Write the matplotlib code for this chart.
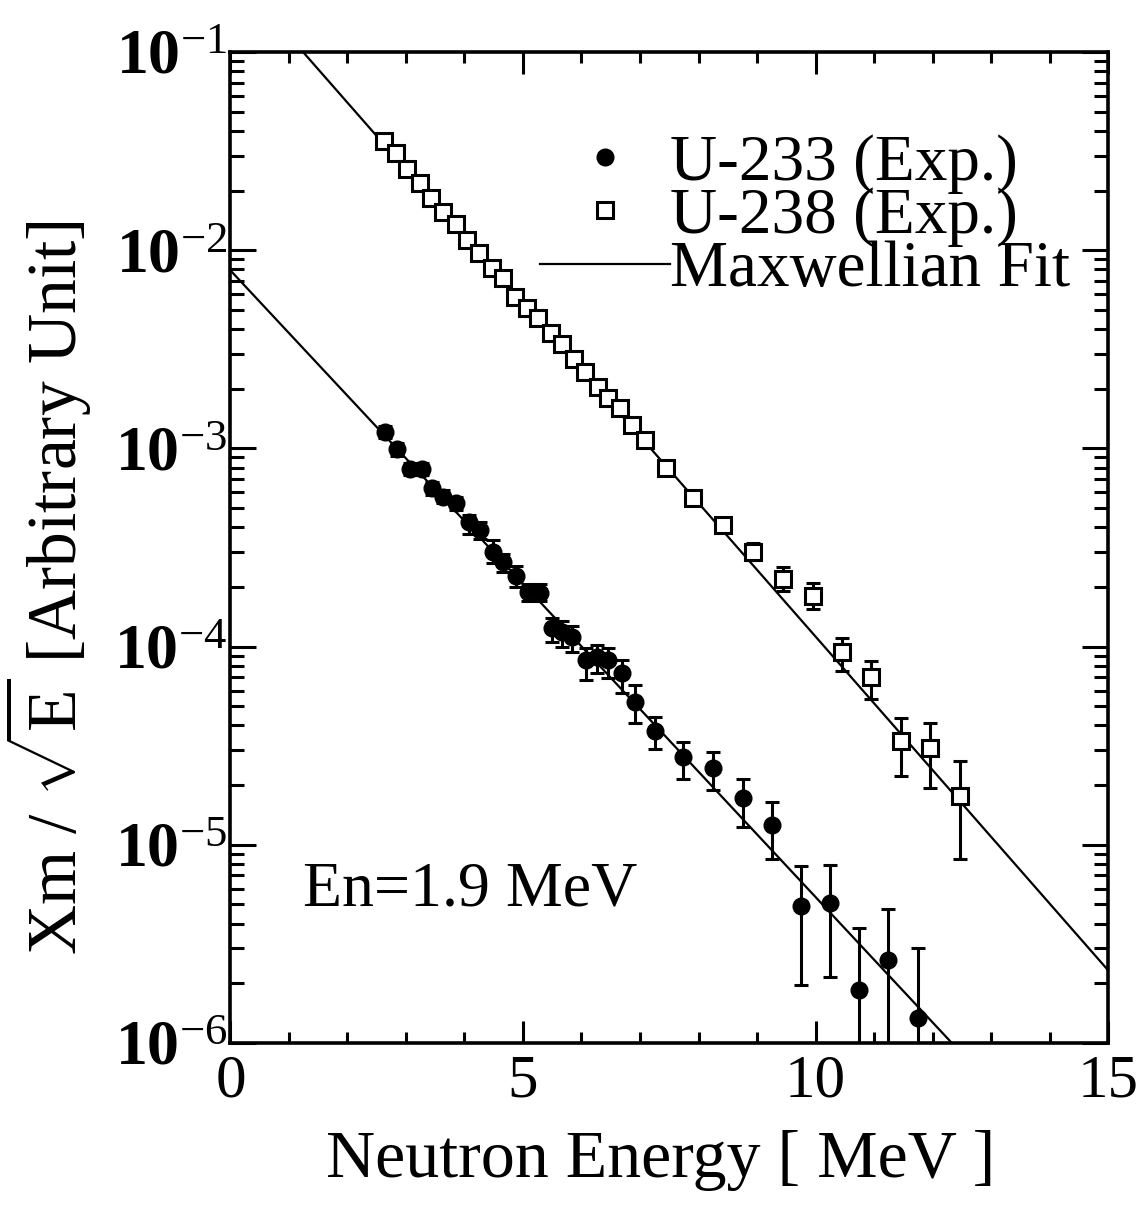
import numpy as np
import matplotlib
matplotlib.use('Agg')
import matplotlib.pyplot as plt
from matplotlib.lines import Line2D
from matplotlib.ticker import FixedLocator, LogLocator, NullFormatter


# DATA
# U-233 (Exp.), filled circles
u233_e = [2.64, 2.85, 3.06, 3.27, 3.44, 3.64, 3.85, 4.07, 4.26, 4.49, 4.66,
          4.88, 5.09, 5.29, 5.49, 5.66, 5.84, 6.08, 6.26, 6.46, 6.69, 6.91,
          7.26, 7.74, 8.24, 8.76, 9.26, 9.75, 10.25, 10.75, 11.24, 11.76]
u233_y = [1.21e-3, 9.89e-4, 7.84e-4, 7.84e-4, 6.29e-4, 5.71e-4, 5.28e-4, 4.27e-4,
          3.87e-4, 3.01e-4, 2.68e-4, 2.27e-4, 1.89e-4, 1.87e-4, 1.24e-4, 1.19e-4,
          1.12e-4, 8.55e-5, 8.89e-5, 8.55e-5, 7.32e-5, 5.27e-5, 3.75e-5, 2.77e-5,
          2.43e-5, 1.73e-5, 1.26e-5, 4.91e-6, 5.07e-6, 1.85e-6, 2.62e-6, 1.33e-6]
u233_lo = [1.13e-3, 9.2e-4, 7.3e-4, 7.3e-4, 5.85e-4, 5.3e-4, 4.9e-4, 3.7e-4,
           3.5e-4, 2.64e-4, 2.37e-4, 2.0e-4, 1.70e-4, 1.69e-4, 1.06e-4, 1.0e-4,
           9.42e-5, 6.78e-5, 7.32e-5, 6.92e-5, 5.81e-5, 4.1e-5, 3.04e-5, 2.15e-5,
           1.89e-5, 1.23e-5, 8.45e-6, 1.96e-6, 2.16e-6, 1e-7, 1e-7, 1e-7]
u233_hi = [1.29e-3, 1.06e-3, 8.4e-4, 8.4e-4, 6.75e-4, 6.15e-4, 5.7e-4, 4.6e-4,
           4.25e-4, 3.43e-4, 2.93e-4, 2.55e-4, 2.07e-4, 2.07e-4, 1.39e-4, 1.34e-4,
           1.27e-4, 9.8e-5, 1.02e-4, 9.8e-5, 8.55e-5, 6.4e-5, 4.41e-5, 3.31e-5,
           2.95e-5, 2.15e-5, 1.65e-5, 7.82e-6, 7.88e-6, 3.79e-6, 4.73e-6, 3.01e-6]

# U-238 (Exp.), open squares
u238_e = [2.63, 2.83, 3.02, 3.24, 3.43, 3.64, 3.85, 4.05, 4.25, 4.47, 4.66,
          4.86, 5.07, 5.26, 5.48, 5.66, 5.87, 6.06, 6.28, 6.46, 6.66, 6.86,
          7.09, 7.44, 7.91, 8.42, 8.94, 9.45, 9.95, 10.45, 10.95, 11.46,
          11.96, 12.47]
u238_y = [3.56e-2, 3.08e-2, 2.57e-2, 2.18e-2, 1.84e-2, 1.55e-2, 1.35e-2, 1.12e-2,
          9.66e-3, 8.17e-3, 7.27e-3, 5.82e-3, 5.13e-3, 4.53e-3, 3.81e-3, 3.35e-3,
          2.82e-3, 2.44e-3, 2.05e-3, 1.80e-3, 1.60e-3, 1.31e-3, 1.10e-3, 7.94e-4,
          5.62e-4, 4.11e-4, 3.01e-4, 2.19e-4, 1.80e-4, 9.42e-5, 7.05e-5, 3.35e-5,
          3.07e-5, 1.76e-5]
u238_lo = [3.56e-2, 3.08e-2, 2.57e-2, 2.18e-2, 1.84e-2, 1.55e-2, 1.35e-2, 1.12e-2,
           9.66e-3, 8.17e-3, 7.27e-3, 5.82e-3, 5.13e-3, 4.53e-3, 3.81e-3, 3.35e-3,
           2.82e-3, 2.44e-3, 2.05e-3, 1.80e-3, 1.60e-3, 1.31e-3, 1.10e-3, 7.94e-4,
           5.62e-4, 4.11e-4, 2.74e-4, 1.91e-4, 1.54e-4, 7.55e-5, 5.42e-5, 2.22e-5,
           1.93e-5, 8.48e-6]
u238_hi = [3.56e-2, 3.08e-2, 2.57e-2, 2.18e-2, 1.84e-2, 1.55e-2, 1.35e-2, 1.12e-2,
           9.66e-3, 8.17e-3, 7.27e-3, 5.82e-3, 5.13e-3, 4.53e-3, 3.81e-3, 3.35e-3,
           2.82e-3, 2.44e-3, 2.05e-3, 1.80e-3, 1.60e-3, 1.31e-3, 1.10e-3, 7.94e-4,
           5.62e-4, 4.11e-4, 3.33e-4, 2.52e-4, 2.09e-4, 1.10e-4, 8.45e-5, 4.38e-5,
           4.13e-5, 2.66e-5]

# Maxwellian fits (straight lines on the log scale, given by end points)
fit233_e = [0.0, 12.33]
fit233_y = [7.9e-3, 1.0e-6]
fit238_e = [1.24, 15.0]
fit238_y = [1.0e-1, 2.33e-6]

xticks = [0, 5, 10, 15]
xtick_labels = ['0', '5', '10', '15']
yticks = [1e-6, 1e-5, 1e-4, 1e-3, 1e-2, 1e-1]
ytick_labels = [r'$\mathbf{10}^{-6}$', r'$\mathbf{10}^{-5}$', r'$\mathbf{10}^{-4}$',
                r'$\mathbf{10}^{-3}$', r'$\mathbf{10}^{-2}$', r'$\mathbf{10}^{-1}$']
legend_labels = ['U-233 (Exp.)', 'U-238 (Exp.)', 'Maxwellian Fit']


plt.rcParams['font.family'] = ['Liberation Serif', 'DejaVu Serif']
plt.rcParams['mathtext.fontset'] = 'custom'
plt.rcParams['mathtext.rm'] = 'Liberation Serif'
plt.rcParams['mathtext.it'] = 'Liberation Serif:italic'
plt.rcParams['mathtext.bf'] = 'Liberation Serif:bold'

fig = plt.figure(figsize=(11.45, 12.23), dpi=100)
ax = fig.add_axes([0.2013, 0.1472, 0.7664, 0.8103])

# fit lines
ax.plot(fit233_e, fit233_y, color='k', lw=1.6, zorder=2)
ax.plot(fit238_e, fit238_y, color='k', lw=1.6, zorder=2)

# experimental points
u233_y = np.array(u233_y)
u238_y = np.array(u238_y)
err233 = [u233_y - np.array(u233_lo), np.array(u233_hi) - u233_y]
err238 = [u238_y - np.array(u238_lo), np.array(u238_hi) - u238_y]

ax.errorbar(u233_e, u233_y, yerr=err233, fmt='o', ms=12, mfc='k', mec='k',
            ecolor='k', elinewidth=2.2, capsize=5, capthick=2.2, zorder=3)
ax.errorbar(u238_e, u238_y, yerr=err238, fmt='s', ms=12, mfc='white', mec='k',
            mew=2.2, ecolor='k', elinewidth=2.2, capsize=5, capthick=2.2, zorder=3)

ax.set_yscale('log')
ax.set_xlim(0, 15)
ax.set_ylim(1e-6, 1e-1)

ax.set_xticks(xticks)
ax.set_xticklabels(xtick_labels, fontsize=44)
ax.xaxis.set_minor_locator(FixedLocator(np.arange(0, 16, 1)))
ax.set_yticks(yticks)
ax.set_yticklabels(ytick_labels, fontsize=46)
ax.yaxis.set_minor_locator(LogLocator(base=10, subs=np.arange(2, 10)))
ax.yaxis.set_minor_formatter(NullFormatter())

ax.tick_params(axis='both', which='both', direction='in', top=True, right=True,
               color='k')
ax.tick_params(axis='x', which='major', length=16, width=2.2, pad=8)
ax.tick_params(axis='x', which='minor', length=8, width=2.2)
ax.tick_params(axis='y', which='major', length=19, width=2.2, pad=2)
ax.tick_params(axis='y', which='minor', length=10, width=2.2)
for s in ax.spines.values():
    s.set_linewidth(2.6)

ax.set_xlabel('Neutron Energy [ MeV ]', fontsize=49)
ax.xaxis.set_label_coords(0.49, -0.088)
ax.set_ylabel(r'Xm / $\sqrt{\mathrm{E}}$ [Arbitrary Unit]', fontsize=50)
ax.yaxis.set_label_coords(-0.155, 0.46)

ax.text(0.083, 0.154, 'En=1.9 MeV', transform=ax.transAxes, fontsize=46,
        va='center', ha='left')

# legend with plain marker / line handles
handles = [Line2D([], [], ls='none', marker='o', ms=12, mfc='k', mec='k'),
           Line2D([], [], ls='none', marker='s', ms=12, mfc='white', mec='k', mew=2.2),
           Line2D([], [], color='k', lw=1.6)]
leg = ax.legend(handles, legend_labels, loc='upper right',
                bbox_to_anchor=(0.972, 0.93), frameon=False, fontsize=47,
                handlelength=2.0, handletextpad=0.0, labelspacing=-0.1,
                borderpad=0.2, borderaxespad=0.0)

fig.savefig('out.png', dpi=100, facecolor='white')
